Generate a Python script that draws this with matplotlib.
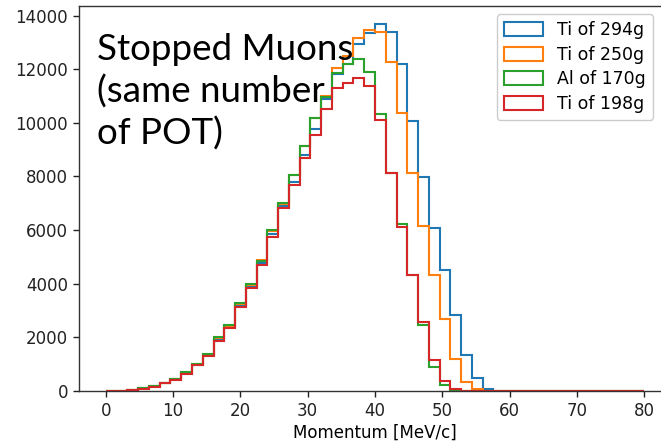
import numpy as np
import matplotlib
matplotlib.use("Agg")
import matplotlib.pyplot as plt

# 50 bins of 1.6 MeV/c between 0 and 80
edges = np.linspace(0, 80, 51)

ti_294 = [5, 15, 40, 95, 175, 300, 430, 660, 980, 1330,
          1900, 2400, 3200, 3900, 4780, 5850, 6900, 7790, 8820, 9790,
          10875, 11810, 12200, 12930, 13365, 13690, 13400, 12200, 10065, 7970,
          6080, 4510, 2830, 1345, 475, 75, 10, 0, 0, 0,
          0, 0, 0, 0, 0, 0, 0, 0, 0, 0]
ti_250 = [5, 15, 45, 95, 180, 300, 440, 680, 1000, 1350,
          1960, 2420, 3250, 3960, 4880, 5950, 6980, 8050, 9130, 10190,
          10990, 12040, 12480, 13160, 13480, 13390, 12280, 10350, 8135, 6150,
          4335, 2685, 1185, 350, 60, 5, 0, 0, 0, 0,
          0, 0, 0, 0, 0, 0, 0, 0, 0, 0]
al_170 = [5, 15, 45, 100, 180, 310, 450, 690, 1010, 1370,
          2005, 2465, 3275, 4000, 4850, 6015, 7000, 8050, 9130, 10190,
          10970, 11860, 12180, 12400, 11880, 10340, 8135, 6240, 4335, 2450,
          910, 240, 30, 5, 0, 0, 0, 0, 0, 0,
          0, 0, 0, 0, 0, 0, 0, 0, 0, 0]
ti_198 = [5, 15, 40, 90, 165, 290, 420, 650, 965, 1310,
          1870, 2360, 3150, 3840, 4710, 5740, 6830, 7700, 8695, 9565,
          10510, 11300, 11500, 11685, 11360, 10090, 8135, 6110, 4335, 2560,
          1160, 360, 80, 15, 0, 0, 0, 0, 0, 0,
          0, 0, 0, 0, 0, 0, 0, 0, 0, 0]

series = [ti_294, ti_250, al_170, ti_198]
labels = ["Ti of 294g", "Ti of 250g", "Al of 170g", "Ti of 198g"]
colors = ["#1f77b4", "#ff7f0e", "#2ca02c", "#d62728"]

centers = 0.5 * (edges[:-1] + edges[1:])

fig = plt.figure(figsize=(6.61, 4.44), dpi=100)
ax = fig.add_axes([0.1195, 0.1194, 0.8956, 0.868])

for vals, lab, col in zip(series, labels, colors):
    ax.hist(centers, bins=edges, weights=vals, histtype="step",
            color=col, linewidth=1.5, label=lab)

ax.set_xticks(np.arange(0, 81, 10))
ax.set_yticks(np.arange(0, 14001, 2000))
ax.tick_params(labelsize=12, length=4.3, width=1.0, colors="#222222")
for s in ax.spines.values():
    s.set_linewidth(1.0)
    s.set_color("#333333")
ax.set_xlabel("Momentum [MeV/c]", fontsize=12, labelpad=3)

ax.legend(loc="upper right", bbox_to_anchor=(0.988, 0.968),
          bbox_transform=fig.transFigure, borderaxespad=0,
          fontsize=12.5, handlelength=2.3, handleheight=0.85,
          labelspacing=0.38, borderpad=0.4, framealpha=1, edgecolor="#cccccc")

fig.text(97 / 661, 1 - 33 / 444, "Stopped Muons\n(same number\nof POT)",
         fontsize=26.5, family="Lato", va="top", ha="left",
         linespacing=1.3, color="black")

fig.savefig("out.png", dpi=100)
